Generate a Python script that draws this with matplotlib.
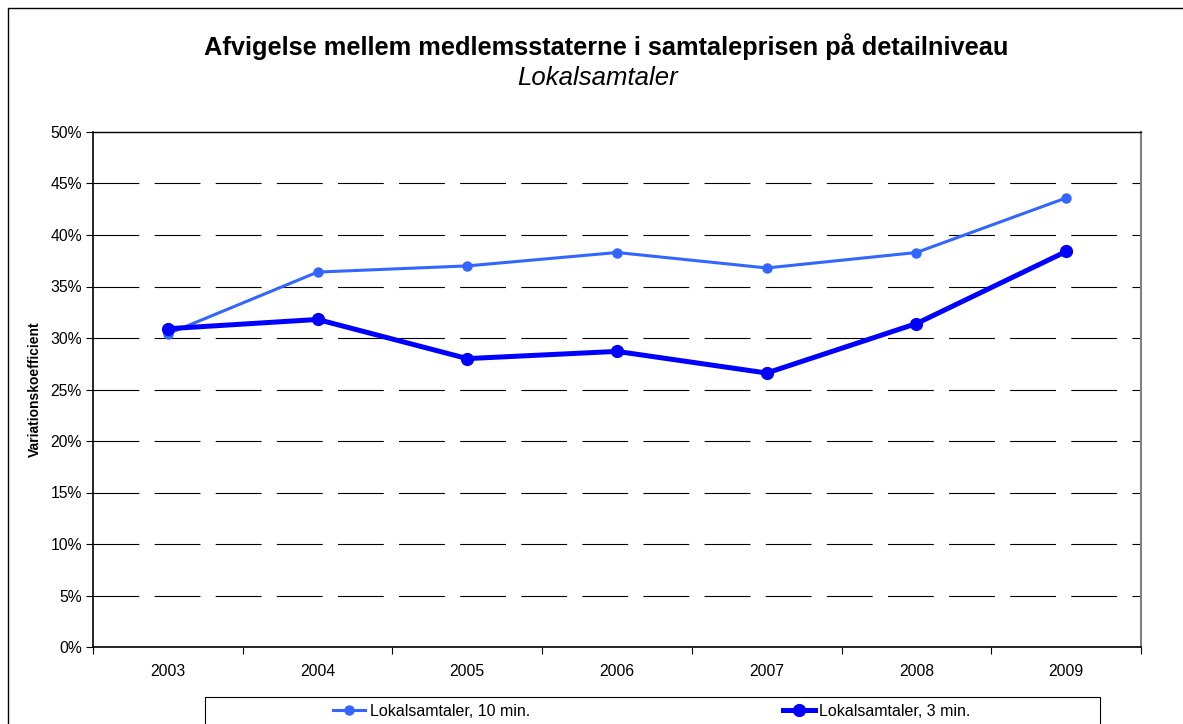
import matplotlib
matplotlib.use("Agg")
import matplotlib.pyplot as plt
import numpy as np
from matplotlib.patches import Rectangle

plt.rcParams["font.family"] = ["Liberation Sans", "DejaVu Sans"]
plt.rcParams["lines.scale_dashes"] = False

years = ["2003", "2004", "2005", "2006", "2007", "2008", "2009"]
local_10min = [30.4, 36.4, 37.0, 38.3, 36.8, 38.3, 43.6]
local_3min = [30.9, 31.8, 28.0, 28.7, 26.6, 31.4, 38.4]

W, H = 1183, 724
fig = plt.figure(figsize=(W / 100, H / 100), dpi=100)
ax = fig.add_axes([93 / W, 1 - 647 / H, (1141 - 93) / W, (647 - 132) / H])

x = np.arange(len(years))
l1, = ax.plot(x, local_10min, color="#3366FF", lw=2.2, marker="o", ms=6.5,
              label="Lokalsamtaler, 10 min.")
l2, = ax.plot(x, local_3min, color="#0000FF", lw=3.6, marker="o", ms=8.5,
              label="Lokalsamtaler, 3 min.")

ax.set_xlim(-0.5, len(years) - 0.5)
ax.set_ylim(0, 50)
ax.set_yticks(np.arange(0, 51, 5))
ax.set_yticklabels([f"{v}%" for v in range(0, 51, 5)], fontsize=11.3)
ax.set_xticks(x)
ax.set_xticklabels(years, fontsize=11.3)
ax.set_xticks(np.arange(-0.5, len(years)), minor=True)
ax.tick_params(axis="x", which="major", length=0, pad=12)
ax.tick_params(axis="x", which="minor", length=5, direction="out", width=0.8)
ax.tick_params(axis="y", length=5, direction="out", width=0.8, pad=3)

# dashed gridlines, Excel style
ax.hlines(np.arange(5, 50, 5), -0.5, len(years) - 0.5, colors="black", lw=0.8,
          linestyles=[(0, (33, 11))], zorder=0.5)

for s in ["left", "bottom"]:
    ax.spines[s].set_color("black")
    ax.spines[s].set_linewidth(1.2)
ax.spines["top"].set_color("black")
ax.spines["top"].set_linewidth(1.0)
ax.spines["right"].set_color("#808080")
ax.spines["right"].set_linewidth(1.5)

ax.set_ylabel("Variationskoefficient", fontsize=10, fontweight="bold", labelpad=6)

fig.text(606 / W, 1 - 47 / H, "Afvigelse mellem medlemsstaterne i samtaleprisen på detailniveau",
         ha="center", va="center", fontsize=18.3, fontweight="bold")
fig.text(598 / W, 1 - 78 / H, "Lokalsamtaler", ha="center", va="center",
         fontsize=18.5, style="italic")

# outer chart border and legend box
fig.patches.append(Rectangle((8 / W, -0.1), 1.2, 1 - 8 / H + 0.1, transform=fig.transFigure,
                             fill=False, edgecolor="black", lw=1.0))
fig.patches.append(Rectangle((205 / W, -0.1), (1100 - 205) / W, 0.1 + 1 - 697 / H,
                             transform=fig.transFigure, fill=False, edgecolor="black", lw=0.8))

fig.legend(handles=[l1, l2], loc="center", bbox_to_anchor=(652 / W, 1 - 711 / H),
           ncol=2, frameon=False, fontsize=11.5, handlelength=2.0, handletextpad=0.3,
           columnspacing=15.8, borderaxespad=0)

fig.savefig("out.png", dpi=100)
